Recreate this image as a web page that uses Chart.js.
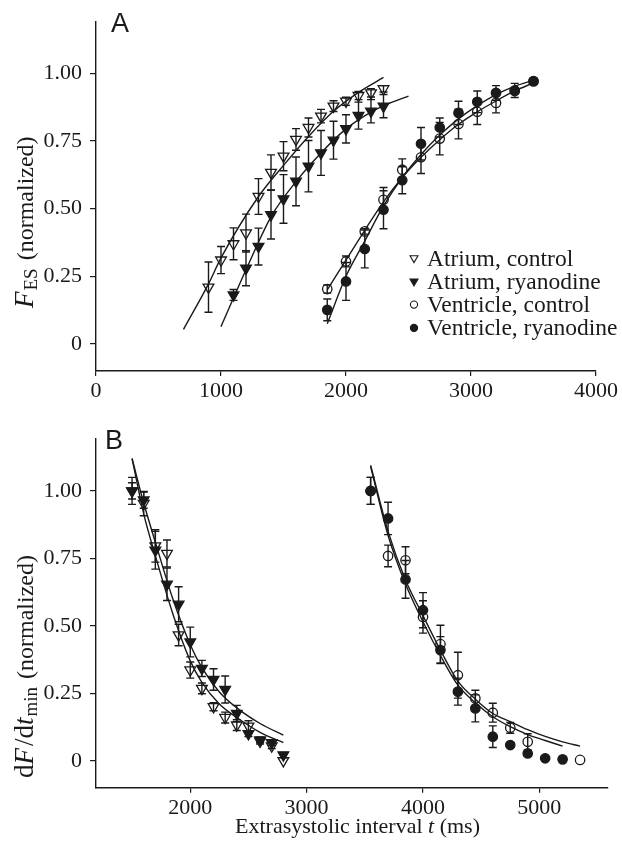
<!DOCTYPE html>
<html>
<head>
<meta charset="utf-8">
<script src="https://cdn.jsdelivr.net/npm/chart.js@4.4.1/dist/chart.umd.min.js"></script>
<style>
  html, body { margin: 0; padding: 0; background: #fff; }
  #wrap { position: relative; width: 622px; height: 857px; }
  canvas { position: absolute; left: 0; }
  #chartA { top: 0; }
  #chartB { top: 410px; }
</style>
</head>
<body>
<div id="wrap">
  <canvas id="chartA" width="622" height="410"></canvas>
  <canvas id="chartB" width="622" height="447"></canvas>
</div>
<script>
// ---- tick values ----
const yTicks = [0, 0.25, 0.5, 0.75, 1];
const xTicksA = [0, 1000, 2000, 3000, 4000];
const xTicksB = [2000, 3000, 4000, 5000];

// ---- Panel A: F_ES (normalized) ----
const atrCtrlIntA = [900, 1000, 1100, 1200, 1300, 1400, 1500, 1600, 1700, 1800, 1900, 2000, 2100, 2200, 2300];
const atrCtrlA    = [0.21, 0.31, 0.37, 0.41, 0.545, 0.634, 0.694, 0.756, 0.80, 0.842, 0.879, 0.897, 0.918, 0.928, 0.943];
const atrCtrlErrA = [0.093, 0.05, 0.059, 0.07, 0.066, 0.065, 0.054, 0.04, 0.035, 0.025, 0.02, 0.015, 0.015, 0.015, 0.012];

const atrRyaIntA = [1100, 1200, 1300, 1400, 1500, 1600, 1700, 1800, 1900, 2000, 2100, 2200, 2300];
const atrRyaA    = [0.181, 0.28, 0.36, 0.478, 0.536, 0.601, 0.657, 0.706, 0.753, 0.795, 0.844, 0.86, 0.879];
const atrRyaErrA = [0.02, 0.065, 0.068, 0.09, 0.09, 0.09, 0.095, 0.083, 0.07, 0.052, 0.05, 0.043, 0.043];

const venIntA     = [1850, 2000, 2150, 2300, 2450, 2600, 2750, 2900, 3050, 3200, 3350, 3500];
const venCtrlA    = [0.203, 0.305, 0.416, 0.533, 0.644, 0.69, 0.759, 0.813, 0.858, 0.891, 0.935, 0.97];
const venCtrlErrA = [0.015, 0.02, 0.01, 0.045, 0.04, 0.06, 0.06, 0.055, 0.047, 0.037, 0.01, 0.01];
const venRyaA     = [0.126, 0.231, 0.351, 0.496, 0.605, 0.74, 0.80, 0.854, 0.895, 0.928, 0.937, 0.972];
const venRyaErrA  = [0.04, 0.07, 0.07, 0.07, 0.05, 0.06, 0.035, 0.043, 0.04, 0.027, 0.026, 0.01];

// fitted curves, panel A
const fitAtrCtrlTA = [700, 900, 1000, 1300, 1500, 1700, 1900, 2100, 2300];
const fitAtrCtrlYA = [0.054, 0.222, 0.318, 0.545, 0.66, 0.767, 0.86, 0.93, 0.985];
const fitAtrRyaTA  = [1000, 1200, 1400, 1600, 1800, 2000, 2200, 2350, 2500];
const fitAtrRyaYA  = [0.064, 0.274, 0.47, 0.60, 0.706, 0.795, 0.857, 0.89, 0.916];
const fitVenTA     = [1850, 2000, 2150, 2300, 2450, 2600, 2750, 2900, 3050, 3200, 3350, 3500];
const fitVenCtrlYA = [0.20, 0.31, 0.42, 0.525, 0.615, 0.69, 0.755, 0.812, 0.858, 0.898, 0.935, 0.965];
const fitVenRyaYA  = [0.075, 0.25, 0.38, 0.51, 0.615, 0.70, 0.772, 0.832, 0.881, 0.922, 0.952, 0.975];

// ---- Panel B: dF/dt_min (normalized) ----
const atrIntB     = [1500, 1600, 1700, 1800, 1900, 2000, 2100, 2200, 2300, 2400, 2500, 2600, 2700, 2800];
const atrCtrlB    = [1.0, 0.953, 0.796, 0.768, 0.466, 0.336, 0.268, 0.2, 0.16, 0.132, 0.128, 0.072, 0.055, 0.0];
const atrCtrlErrB = [0.05, 0.045, 0.06, 0.05, 0.04, 0.03, 0.02, 0.015, 0.02, 0.02, 0.02, 0.01, 0.01, 0];
const atrRyaB     = [1.0, 0.966, 0.78, 0.654, 0.58, 0.44, 0.342, 0.301, 0.264, 0.175, 0.1, 0.077, 0.067, 0.021];
const atrRyaErrB  = [0.03, 0.03, 0.07, 0.06, 0.065, 0.055, 0.03, 0.04, 0.05, 0.03, 0.01, 0.01, 0.01, 0.01];

const venIntB     = [3550, 3700, 3850, 4000, 4150, 4300, 4450, 4600, 4750, 4900, 5050, 5200, 5350];
const venCtrlB    = [1.0, 0.759, 0.743, 0.533, 0.432, 0.317, 0.231, 0.178, 0.122, 0.07, null, null, 0.003];
const venCtrlErrB = [0.05, 0.04, 0.05, 0.06, 0.07, 0.085, 0.03, 0.035, 0.02, 0.03, 0, 0, 0];
const venRyaB     = [1.0, 0.898, 0.672, 0.558, 0.41, 0.256, 0.194, 0.089, 0.058, 0.027, 0.009, 0.005, null];
const venRyaErrB  = [0.05, 0.06, 0.07, 0.065, 0.05, 0.05, 0.05, 0.04, 0, 0, 0, 0, 0];

// fitted curves, panel B
const fitAtrTB     = [1500, 1600, 1700, 1850, 2000, 2100, 2250, 2400, 2600, 2800];
const fitAtrCtrlYB = [1.12, 0.915, 0.76, 0.545, 0.37, 0.29, 0.21, 0.16, 0.105, 0.067];
const fitAtrRyaYB  = [1.12, 0.955, 0.81, 0.60, 0.43, 0.345, 0.255, 0.196, 0.138, 0.095];
const fitVenCtrlTB = [3550, 3700, 3850, 4000, 4150, 4300, 4450, 4600, 4750, 4900, 5050, 5200, 5350];
const fitVenCtrlYB = [1.095, 0.85, 0.67, 0.538, 0.41, 0.295, 0.228, 0.175, 0.145, 0.115, 0.09, 0.07, 0.054];
const fitVenRyaTB  = [3550, 3700, 3850, 4000, 4150, 4300, 4450, 4600, 4750, 4900, 5050, 5200];
const fitVenRyaYB  = [1.09, 0.835, 0.655, 0.515, 0.39, 0.28, 0.215, 0.163, 0.126, 0.097, 0.075, 0.054];

const INK = '#1a1a1a';
const SERIF = '"Liberation Serif", "Times New Roman", serif';
const SANS = '"Liberation Sans", Arial, sans-serif';

// build {x, y, e} points, skipping missing values
function pts(xs, ys, errs) {
  const out = [];
  xs.forEach((x, i) => {
    if (ys[i] === null) return;
    out.push({ x: x, y: ys[i], e: errs ? errs[i] : 0 });
  });
  return out;
}

function markers(label, data, style, filled) {
  return {
    label: label,
    data: data,
    showLine: false,
    pointStyle: style,
    pointRotation: style === 'triangle' ? 180 : 0,
    pointRadius: style === 'triangle' ? 6.2 : 4.7,
    pointBorderWidth: 1.3,
    pointBorderColor: INK,
    pointBackgroundColor: filled ? INK : 'rgba(0,0,0,0)',
    errorBars: true
  };
}

function fitLine(xs, ys) {
  return {
    data: pts(xs, ys),
    showLine: true,
    pointRadius: 0,
    borderColor: INK,
    borderWidth: 1.4,
    cubicInterpolationMode: 'monotone',
    fill: false
  };
}

// error bars drawn under the markers
const errorBarPlugin = {
  id: 'errorBarPlugin',
  beforeDatasetsDraw(chart) {
    const ctx = chart.ctx;
    const ys = chart.scales.y;
    ctx.save();
    ctx.strokeStyle = INK;
    ctx.lineWidth = 1.4;
    chart.data.datasets.forEach((ds, i) => {
      if (!ds.errorBars) return;
      const meta = chart.getDatasetMeta(i);
      meta.data.forEach((el, j) => {
        const d = ds.data[j];
        if (!d.e) return;
        const top = ys.getPixelForValue(d.y + d.e);
        const bot = ys.getPixelForValue(d.y - d.e);
        ctx.beginPath();
        ctx.moveTo(el.x, top); ctx.lineTo(el.x, bot);
        ctx.moveTo(el.x - 4, top); ctx.lineTo(el.x + 4, top);
        ctx.moveTo(el.x - 4, bot); ctx.lineTo(el.x + 4, bot);
        ctx.stroke();
      });
    });
    ctx.restore();
  }
};

// text made of runs with their own fonts
function drawRuns(ctx, runs, x, y) {
  let cx = x;
  runs.forEach(r => {
    ctx.font = r.font;
    cx += r.gap || 0;
    ctx.fillText(r.t, cx, y + (r.dy || 0));
    cx += ctx.measureText(r.t).width;
  });
}

const rmT = '24px ' + SERIF;
const itT = 'italic 27px ' + SERIF;
const rmM = '27px ' + SERIF;
const subT = '19px ' + SERIF;
const rm22 = '22px ' + SERIF;
const it22 = 'italic 22px ' + SERIF;

function drawMarker(ctx, style, filled, x, y, r) {
  ctx.beginPath();
  if (style === 'circle') {
    ctx.arc(x, y, r, 0, Math.PI * 2);
  } else {
    ctx.moveTo(x, y + r);
    ctx.lineTo(x - r * 0.866, y - r * 0.5);
    ctx.lineTo(x + r * 0.866, y - r * 0.5);
    ctx.closePath();
  }
  ctx.lineWidth = 1.1;
  ctx.strokeStyle = INK;
  if (filled) { ctx.fillStyle = INK; ctx.fill(); }
  ctx.stroke();
}

const legendRows = [
  ['triangle', false, 'Atrium, control'],
  ['triangle', true, 'Atrium, ryanodine'],
  ['circle', false, 'Ventricle, control'],
  ['circle', true, 'Ventricle, ryanodine']
];

const decorA = {
  id: 'decorA',
  afterDraw(chart) {
    const ctx = chart.ctx;
    ctx.save();
    ctx.fillStyle = INK;
    ctx.textBaseline = 'alphabetic';
    ctx.font = '27px ' + SANS;
    ctx.fillText('A', 111, 32);
    // legend
    legendRows.forEach((row, i) => {
      const base = 265.5 + i * 23.3;
      drawMarker(ctx, row[0], row[1], 414, base - 7.5, row[0] === 'circle' ? 3.6 : 4.6);
      ctx.fillStyle = INK;
      ctx.font = '23.5px ' + SERIF;
      ctx.fillText(row[2], 427, base);
    });
    // y title
    ctx.translate(33, 308);
    ctx.rotate(-Math.PI / 2);
    drawRuns(ctx, [
      { t: 'F', font: itT },
      { t: 'ES', font: subT, dy: 4, gap: 1 },
      { t: ' (normalized)', font: rmT, gap: 2 }
    ], 0, 0);
    ctx.restore();
  }
};

const decorB = {
  id: 'decorB',
  afterDraw(chart) {
    const ctx = chart.ctx;
    ctx.save();
    ctx.fillStyle = INK;
    ctx.textBaseline = 'alphabetic';
    ctx.font = '27px ' + SANS;
    ctx.fillText('B', 105, 38.5);
    drawRuns(ctx, [
      { t: 'Extrasystolic interval ', font: rm22 },
      { t: 't', font: it22 },
      { t: ' (ms)', font: rm22 }
    ], 235, 423);
    ctx.translate(33, 368);
    ctx.rotate(-Math.PI / 2);
    drawRuns(ctx, [
      { t: 'd', font: rmM },
      { t: 'F', font: itT },
      { t: '/d', font: rmM, gap: 2 },
      { t: 't', font: itT },
      { t: 'min', font: subT, dy: 4, gap: 1 },
      { t: ' (normalized)', font: rmT, gap: 2 }
    ], 0, 0);
    ctx.restore();
  }
};

function axes(xMin, xMax, xTicks, xHeight, yMin, yMax) {
  const grid = { drawOnChartArea: false, drawTicks: true, color: INK, lineWidth: 1.2 };
  const border = { display: true, color: INK, width: 1.4 };
  return {
    x: {
      type: 'linear', min: xMin, max: xMax,
      afterBuildTicks: s => { s.ticks = xTicks.map(v => ({ value: v })); },
      afterFit: s => { s.height = xHeight; s.paddingLeft = 0; s.paddingRight = 0; },
      grid: Object.assign({ tickLength: 5 }, grid),
      border: border,
      ticks: {
        color: INK, font: { family: SERIF, size: 22 }, padding: 2,
        maxRotation: 0, autoSkip: false, callback: v => String(v)
      }
    },
    y: {
      type: 'linear', min: yMin, max: yMax,
      afterBuildTicks: s => { s.ticks = yTicks.map(v => ({ value: v })); },
      afterFit: s => { s.width = 96; s.paddingTop = 0; s.paddingBottom = 0; },
      grid: Object.assign({ tickLength: 6 }, grid),
      border: border,
      ticks: {
        color: INK, font: { family: SERIF, size: 22 }, padding: 8,
        autoSkip: false, callback: v => (v === 0 ? '0' : v.toFixed(2))
      }
    }
  };
}

const baseOptions = {
  responsive: false,
  animation: false,
  plugins: { legend: { display: false }, tooltip: { enabled: false } }
};

new Chart(document.getElementById('chartA'), {
  type: 'scatter',
  data: {
    datasets: [
      markers('Atrium, control', pts(atrCtrlIntA, atrCtrlA, atrCtrlErrA), 'triangle', false),
      markers('Ventricle, control', pts(venIntA, venCtrlA, venCtrlErrA), 'circle', false),
      markers('Atrium, ryanodine', pts(atrRyaIntA, atrRyaA, atrRyaErrA), 'triangle', true),
      markers('Ventricle, ryanodine', pts(venIntA, venRyaA, venRyaErrA), 'circle', true),
      fitLine(fitAtrCtrlTA, fitAtrCtrlYA),
      fitLine(fitAtrRyaTA, fitAtrRyaYA),
      fitLine(fitVenTA, fitVenCtrlYA),
      fitLine(fitVenTA, fitVenRyaYA)
    ]
  },
  options: Object.assign({}, baseOptions, {
    layout: { padding: { top: 22, right: 26, left: 0, bottom: 0 } },
    scales: axes(0, 4000, xTicksA, 39, -0.1, 1.19)
  }),
  plugins: [errorBarPlugin, decorA]
});

new Chart(document.getElementById('chartB'), {
  type: 'scatter',
  data: {
    datasets: [
      markers('Atrium, control', pts(atrIntB, atrCtrlB, atrCtrlErrB), 'triangle', false),
      markers('Ventricle, control', pts(venIntB, venCtrlB, venCtrlErrB), 'circle', false),
      markers('Atrium, ryanodine', pts(atrIntB, atrRyaB, atrRyaErrB), 'triangle', true),
      markers('Ventricle, ryanodine', pts(venIntB, venRyaB, venRyaErrB), 'circle', true),
      fitLine(fitAtrTB, fitAtrCtrlYB),
      fitLine(fitAtrTB, fitAtrRyaYB),
      fitLine(fitVenCtrlTB, fitVenCtrlYB),
      fitLine(fitVenRyaTB, fitVenRyaYB)
    ]
  },
  options: Object.assign({}, baseOptions, {
    layout: { padding: { top: 28.3, right: 14, left: 0, bottom: 0 } },
    scales: axes(1190, 5590, xTicksB, 69.3, -0.1, 1.195)
  }),
  plugins: [errorBarPlugin, decorB]
});
</script>
</body>
</html>
